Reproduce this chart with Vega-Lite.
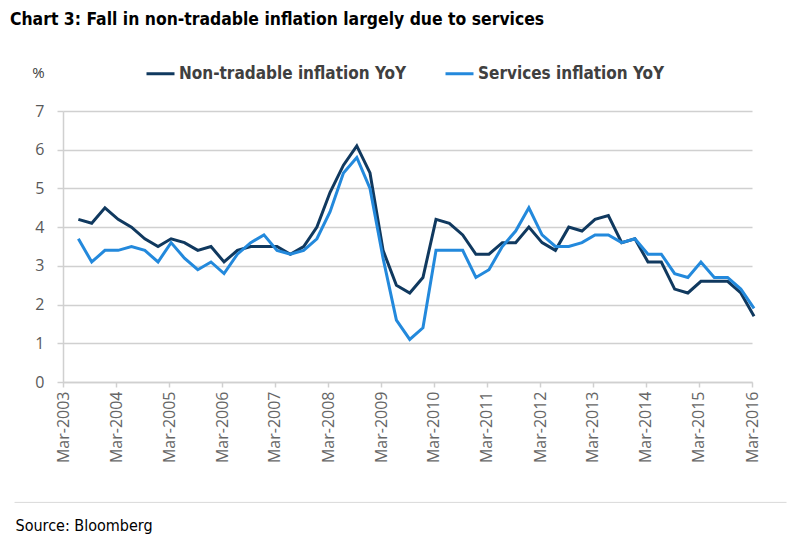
{
  "$schema": "https://vega.github.io/schema/vega-lite/v6.json",
  "autosize": "none",
  "width": 689,
  "height": 271,
  "padding": {"left": 63, "top": 111, "right": 48, "bottom": 175},
  "background": "white",
  "title": {
    "text": "Chart 3: Fall in non-tradable inflation largely due to services",
    "anchor": "start",
    "frame": "group",
    "dx": -53,
    "offset": 30,
    "font": "DejaVu Sans Condensed",
    "fontSize": 17.4,
    "fontWeight": "bold",
    "color": "#000000"
  },
  "datasets": {
    "infl": [
      {"date": "2003-06-15", "nt": 4.2, "sv": 3.7},
      {"date": "2003-09-15", "nt": 4.1, "sv": 3.1},
      {"date": "2003-12-15", "nt": 4.5, "sv": 3.4},
      {"date": "2004-03-15", "nt": 4.2, "sv": 3.4},
      {"date": "2004-06-15", "nt": 4.0, "sv": 3.5},
      {"date": "2004-09-15", "nt": 3.7, "sv": 3.4},
      {"date": "2004-12-15", "nt": 3.5, "sv": 3.1},
      {"date": "2005-03-15", "nt": 3.7, "sv": 3.6},
      {"date": "2005-06-15", "nt": 3.6, "sv": 3.2},
      {"date": "2005-09-15", "nt": 3.4, "sv": 2.9},
      {"date": "2005-12-15", "nt": 3.5, "sv": 3.1},
      {"date": "2006-03-15", "nt": 3.1, "sv": 2.8},
      {"date": "2006-06-15", "nt": 3.4, "sv": 3.3},
      {"date": "2006-09-15", "nt": 3.5, "sv": 3.6},
      {"date": "2006-12-15", "nt": 3.5, "sv": 3.8},
      {"date": "2007-03-15", "nt": 3.5, "sv": 3.4},
      {"date": "2007-06-15", "nt": 3.3, "sv": 3.3},
      {"date": "2007-09-15", "nt": 3.5, "sv": 3.4},
      {"date": "2007-12-15", "nt": 4.0, "sv": 3.7},
      {"date": "2008-03-15", "nt": 4.9, "sv": 4.4},
      {"date": "2008-06-15", "nt": 5.6, "sv": 5.4},
      {"date": "2008-09-15", "nt": 6.1, "sv": 5.8},
      {"date": "2008-12-15", "nt": 5.4, "sv": 5.0},
      {"date": "2009-03-15", "nt": 3.4, "sv": 3.2},
      {"date": "2009-06-15", "nt": 2.5, "sv": 1.6},
      {"date": "2009-09-15", "nt": 2.3, "sv": 1.1},
      {"date": "2009-12-15", "nt": 2.7, "sv": 1.4},
      {"date": "2010-03-15", "nt": 4.2, "sv": 3.4},
      {"date": "2010-06-15", "nt": 4.1, "sv": 3.4},
      {"date": "2010-09-15", "nt": 3.8, "sv": 3.4},
      {"date": "2010-12-15", "nt": 3.3, "sv": 2.7},
      {"date": "2011-03-15", "nt": 3.3, "sv": 2.9},
      {"date": "2011-06-15", "nt": 3.6, "sv": 3.5},
      {"date": "2011-09-15", "nt": 3.6, "sv": 3.9},
      {"date": "2011-12-15", "nt": 4.0, "sv": 4.5},
      {"date": "2012-03-15", "nt": 3.6, "sv": 3.8},
      {"date": "2012-06-15", "nt": 3.4, "sv": 3.5},
      {"date": "2012-09-15", "nt": 4.0, "sv": 3.5},
      {"date": "2012-12-15", "nt": 3.9, "sv": 3.6},
      {"date": "2013-03-15", "nt": 4.2, "sv": 3.8},
      {"date": "2013-06-15", "nt": 4.3, "sv": 3.8},
      {"date": "2013-09-15", "nt": 3.6, "sv": 3.6},
      {"date": "2013-12-15", "nt": 3.7, "sv": 3.7},
      {"date": "2014-03-15", "nt": 3.1, "sv": 3.3},
      {"date": "2014-06-15", "nt": 3.1, "sv": 3.3},
      {"date": "2014-09-15", "nt": 2.4, "sv": 2.8},
      {"date": "2014-12-15", "nt": 2.3, "sv": 2.7},
      {"date": "2015-03-15", "nt": 2.6, "sv": 3.1},
      {"date": "2015-06-15", "nt": 2.6, "sv": 2.7},
      {"date": "2015-09-15", "nt": 2.6, "sv": 2.7},
      {"date": "2015-12-15", "nt": 2.3, "sv": 2.4},
      {"date": "2016-03-15", "nt": 1.7, "sv": 1.9}
    ]
  },
  "layer": [
    {
      "data": {"name": "infl"},
      "transform": [
        {"fold": ["nt", "sv"], "as": ["key", "value"]},
        {"calculate": "datum.key === 'nt' ? 'Non-tradable inflation YoY' : 'Services inflation YoY'", "as": "series"}
      ],
      "mark": {"type": "line", "strokeWidth": 3, "strokeJoin": "miter", "clip": false},
      "encoding": {
        "x": {
          "field": "date",
          "type": "temporal",
          "scale": {
            "type": "utc",
            "domain": [
              {"year": 2003, "month": 3, "date": 1, "utc": true},
              {"year": 2016, "month": 3, "date": 1, "utc": true}
            ]
          },
          "axis": {
            "values": [
              {"year": 2003, "month": 3, "date": 1, "utc": true},
              {"year": 2004, "month": 3, "date": 1, "utc": true},
              {"year": 2005, "month": 3, "date": 1, "utc": true},
              {"year": 2006, "month": 3, "date": 1, "utc": true},
              {"year": 2007, "month": 3, "date": 1, "utc": true},
              {"year": 2008, "month": 3, "date": 1, "utc": true},
              {"year": 2009, "month": 3, "date": 1, "utc": true},
              {"year": 2010, "month": 3, "date": 1, "utc": true},
              {"year": 2011, "month": 3, "date": 1, "utc": true},
              {"year": 2012, "month": 3, "date": 1, "utc": true},
              {"year": 2013, "month": 3, "date": 1, "utc": true},
              {"year": 2014, "month": 3, "date": 1, "utc": true},
              {"year": 2015, "month": 3, "date": 1, "utc": true},
              {"year": 2016, "month": 3, "date": 1, "utc": true}
            ],
            "labelExpr": "utcFormat(datum.value, '%b-%Y')",
            "labelAngle": -90,
            "labelAlign": "right",
            "labelBaseline": "middle",
            "labelFont": "Open Sans",
            "labelFontSize": 16,
            "labelColor": "#666666",
            "labelPadding": 4,
            "labelOverlap": false,
            "labelBound": false,
            "labelFlush": false,
            "domainColor": "#d0d0d0",
            "domainWidth": 1.5,
            "tickColor": "#d0d0d0",
            "tickSize": 5,
            "tickWidth": 1.5,
            "grid": false,
            "title": "Source: Bloomberg",
            "titleX": -48,
            "titleY": 143,
            "titleAlign": "left",
            "titleBaseline": "middle",
            "titleAngle": 0,
            "titleFont": "DejaVu Sans Condensed",
            "titleFontSize": 16,
            "titleFontWeight": "normal",
            "titleColor": "#000000"
          }
        },
        "y": {
          "field": "value",
          "type": "quantitative",
          "scale": {"domain": [0, 7], "nice": false, "zero": true},
          "axis": {
            "values": [0, 1, 2, 3, 4, 5, 6, 7],
            "labelFont": "Open Sans",
            "labelFontSize": 16,
            "labelColor": "#595959",
            "labelPadding": 13,
            "labelOverlap": false,
            "domainColor": "#d0d0d0",
            "domainWidth": 1.5,
            "tickColor": "#d0d0d0",
            "tickSize": 6,
            "tickWidth": 1.5,
            "grid": true,
            "gridColor": "#d0d0d0",
            "gridWidth": 1.5,
            "title": "%",
            "titleAngle": 0,
            "titleX": -25,
            "titleY": -39,
            "titleAlign": "center",
            "titleBaseline": "middle",
            "titleFont": "Open Sans",
            "titleFontSize": 15,
            "titleFontWeight": "normal",
            "titleColor": "#404040"
          }
        },
        "color": {
          "field": "series",
          "type": "nominal",
          "scale": {
            "domain": ["Non-tradable inflation YoY", "Services inflation YoY"],
            "range": ["#10395f", "#2389dc"]
          },
          "legend": {
            "title": null,
            "orient": "none",
            "legendX": 82,
            "legendY": -53,
            "direction": "horizontal",
            "symbolType": "stroke",
            "symbolSize": 784,
            "symbolStrokeWidth": 3,
            "labelFont": "DejaVu Sans Condensed",
            "labelFontSize": 17,
            "labelFontWeight": "bold",
            "labelColor": "#404040",
            "labelOffset": 3,
            "columnPadding": 32,
            "labelLimit": 400
          }
        }
      }
    },
    {
      "data": {"values": [{}]},
      "mark": {"type": "rule", "color": "#d9d9d9", "strokeWidth": 1, "clip": false},
      "encoding": {
        "y": {
          "datum": -3.11,
          "type": "quantitative",
          "scale": {"domain": [0, 7], "nice": false, "zero": true},
          "axis": {
            "values": [0, 1, 2, 3, 4, 5, 6, 7],
            "labelFont": "Open Sans",
            "labelFontSize": 16,
            "labelColor": "#595959",
            "labelPadding": 13,
            "labelOverlap": false,
            "domainColor": "#d0d0d0",
            "domainWidth": 1.5,
            "tickColor": "#d0d0d0",
            "tickSize": 6,
            "tickWidth": 1.5,
            "grid": true,
            "gridColor": "#d0d0d0",
            "gridWidth": 1.5,
            "title": "%",
            "titleAngle": 0,
            "titleX": -25,
            "titleY": -39,
            "titleAlign": "center",
            "titleBaseline": "middle",
            "titleFont": "Open Sans",
            "titleFontSize": 15,
            "titleFontWeight": "normal",
            "titleColor": "#404040"
          }
        },
        "x": {
          "datum": {"year": 2002, "month": 4, "date": 1, "utc": true},
          "type": "temporal",
          "scale": {
            "type": "utc",
            "domain": [
              {"year": 2003, "month": 3, "date": 1, "utc": true},
              {"year": 2016, "month": 3, "date": 1, "utc": true}
            ]
          },
          "axis": {
            "values": [
              {"year": 2003, "month": 3, "date": 1, "utc": true},
              {"year": 2004, "month": 3, "date": 1, "utc": true},
              {"year": 2005, "month": 3, "date": 1, "utc": true},
              {"year": 2006, "month": 3, "date": 1, "utc": true},
              {"year": 2007, "month": 3, "date": 1, "utc": true},
              {"year": 2008, "month": 3, "date": 1, "utc": true},
              {"year": 2009, "month": 3, "date": 1, "utc": true},
              {"year": 2010, "month": 3, "date": 1, "utc": true},
              {"year": 2011, "month": 3, "date": 1, "utc": true},
              {"year": 2012, "month": 3, "date": 1, "utc": true},
              {"year": 2013, "month": 3, "date": 1, "utc": true},
              {"year": 2014, "month": 3, "date": 1, "utc": true},
              {"year": 2015, "month": 3, "date": 1, "utc": true},
              {"year": 2016, "month": 3, "date": 1, "utc": true}
            ],
            "labelExpr": "utcFormat(datum.value, '%b-%Y')",
            "labelAngle": -90,
            "labelAlign": "right",
            "labelBaseline": "middle",
            "labelFont": "Open Sans",
            "labelFontSize": 16,
            "labelColor": "#666666",
            "labelPadding": 4,
            "labelOverlap": false,
            "labelBound": false,
            "labelFlush": false,
            "domainColor": "#d0d0d0",
            "domainWidth": 1.5,
            "tickColor": "#d0d0d0",
            "tickSize": 5,
            "tickWidth": 1.5,
            "grid": false,
            "title": "Source: Bloomberg",
            "titleX": -48,
            "titleY": 143,
            "titleAlign": "left",
            "titleBaseline": "middle",
            "titleAngle": 0,
            "titleFont": "DejaVu Sans Condensed",
            "titleFontSize": 16,
            "titleFontWeight": "normal",
            "titleColor": "#000000"
          }
        },
        "x2": {"datum": {"year": 2016, "month": 10, "date": 25, "utc": true}}
      }
    }
  ],
  "config": {"view": {"stroke": null}}
}
